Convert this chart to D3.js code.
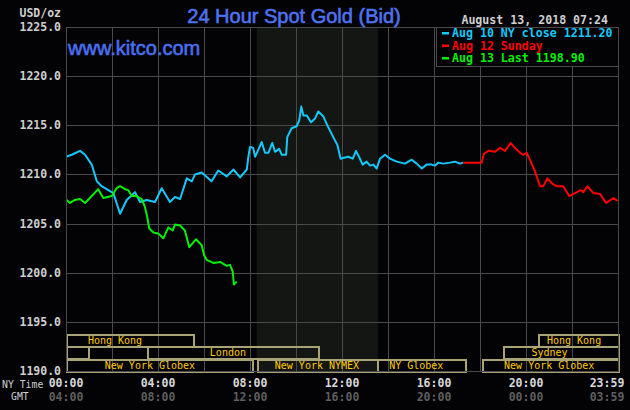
<!DOCTYPE html>
<html>
<head>
<meta charset="utf-8">
<script src="https://cdn.jsdelivr.net/npm/d3@7"></script>
<style>
  html, body { margin: 0; padding: 0; background: #000; }
  svg { display: block; }
</style>
</head>
<body>
<svg id="chart"></svg>
<script>
// Aug 10 NY close (hours since 00:00 NY time, price)
let closeHours = [0.0, 0.25, 0.61, 0.83, 1.12, 1.34, 1.55, 2.06, 2.35, 2.64, 3.0, 3.22, 3.51, 3.87, 4.16, 4.52, 4.74, 4.96,
  5.25, 5.47, 5.61, 5.9, 6.33, 6.62, 6.99, 7.28, 7.57, 7.86, 7.93, 8.0, 8.14, 8.22, 8.36, 8.51, 8.65, 8.8, 8.97, 9.09,
  9.27, 9.38, 9.57, 9.62, 9.81, 10.03, 10.14, 10.23, 10.32, 10.47, 10.65, 10.83, 10.97, 11.19, 11.36, 11.62, 11.8,
  11.94, 12.09, 12.27, 12.47, 12.61, 12.78, 12.9, 13.07, 13.22, 13.36, 13.51, 13.65, 13.87, 14.09, 14.38, 14.74,
  15.03, 15.25, 15.47, 15.68, 15.9, 16.04, 16.19, 16.4, 16.7, 16.91, 17.13, 17.27];
let closePrices = [1211.8, 1212.0, 1212.4, 1212.0, 1211.0, 1209.3, 1208.8, 1208.1, 1206.0, 1207.4, 1208.2, 1207.2, 1207.4,
  1207.2, 1208.6, 1207.2, 1207.7, 1207.5, 1209.6, 1209.3, 1210.0, 1210.2, 1209.3, 1210.4, 1209.8, 1210.5, 1209.7,
  1210.5, 1211.8, 1212.8, 1212.7, 1211.8, 1212.5, 1213.3, 1212.2, 1212.2, 1213.2, 1212.3, 1212.6, 1212.0, 1212.0,
  1213.8, 1214.7, 1214.9, 1215.5, 1216.9, 1216.0, 1216.0, 1215.3, 1215.7, 1216.4, 1215.9, 1215.0, 1213.8, 1213.0,
  1211.6, 1211.7, 1211.8, 1211.6, 1212.4, 1211.6, 1211.0, 1211.3, 1210.9, 1211.0, 1210.6, 1211.6, 1212.0, 1211.6,
  1211.3, 1211.1, 1211.5, 1211.1, 1210.6, 1211.0, 1211.0, 1210.9, 1211.2, 1211.1, 1211.2, 1211.3, 1211.1, 1211.2];

// Aug 12 Sunday
let sundayHours = [17.27, 18.07, 18.17, 18.36, 18.65, 18.87, 19.09, 19.33, 19.52, 19.74, 19.88, 20.03, 20.17, 20.39,
  20.61, 20.75, 20.93, 21.12, 21.33, 21.62, 21.88, 22.13, 22.38, 22.49, 22.67, 22.93, 23.22, 23.48, 23.62, 23.8, 23.98];
let sundayPrices = [1211.2, 1211.2, 1212.1, 1212.4, 1212.3, 1212.7, 1212.4, 1213.2, 1212.7, 1212.2, 1212.0, 1212.2,
  1211.5, 1210.3, 1208.8, 1208.8, 1209.6, 1209.1, 1208.8, 1208.8, 1207.8, 1208.1, 1208.4, 1208.2, 1208.8, 1208.1,
  1208.0, 1207.1, 1207.3, 1207.6, 1207.3];

// Aug 13 last
let lastHours = [0.03, 0.17, 0.39, 0.61, 0.83, 1.12, 1.4, 1.62, 1.99, 2.2, 2.35, 2.57, 2.71, 2.86, 3.07, 3.29, 3.43,
  3.53, 3.62, 3.8, 4.01, 4.23, 4.45, 4.64, 4.74, 4.96, 5.17, 5.36, 5.65, 5.9, 6.0, 6.12, 6.4, 6.7, 6.99, 7.13, 7.25,
  7.3, 7.42];
let lastPrices = [1207.4, 1207.1, 1207.4, 1207.5, 1207.1, 1207.8, 1208.5, 1207.6, 1207.8, 1208.6, 1208.8, 1208.5,
  1208.4, 1207.8, 1207.8, 1207.5, 1206.7, 1205.7, 1204.5, 1204.1, 1204.0, 1203.5, 1204.6, 1204.3, 1204.9, 1204.8,
  1204.3, 1202.6, 1203.4, 1202.8, 1201.8, 1201.3, 1201.0, 1201.1, 1200.7, 1200.8, 1200.1, 1198.8, 1199.1];

let priceTicks = [1190, 1195, 1200, 1205, 1210, 1215, 1220, 1225];
let nyTimeLabels = ["00:00", "04:00", "08:00", "12:00", "16:00", "20:00", "23:59"];
let gmtLabels = ["04:00", "08:00", "12:00", "16:00", "20:00", "00:00", "03:59"];
let labelHours = [0, 4, 8, 12, 16, 20, 24];

let legendLabels = ["Aug 10 NY close 1211.20", "Aug 12 Sunday", "Aug 13 Last 1198.90"];

// trading sessions: row 0 = top
let sessionNames = ["Hong Kong", "Hong Kong", "", "London", "Sydney", "New York Globex", "New York NYMEX", "NY Globex", "New York Globex"];
let sessionStart = [0, 20.53, 0, 3.5, 19.0, 0, 8.29, 13.5, 18.07];
let sessionEnd = [5.51, 24, 0.97, 10.97, 24, 8.07, 13.5, 17.36, 24];
let sessionRow = [0, 0, 1, 1, 1, 2, 2, 2, 2];
let sessionLabelAt = [2.13, 22.09, 0, 7.04, 21.02, 3.65, 10.91, 15.23, 21.01];

let nymexHours = [8.29, 13.56];

const W = 630, H = 410;
const plotLeft = 66, plotRight = 618, plotTop = 27, plotBottom = 371;
const mono = "'DejaVu Sans Mono', monospace";
const gridColor = "#4a4a4a";

let svg = d3.select("#chart").attr("width", W).attr("height", H);
svg.append("rect").attr("width", W).attr("height", H).attr("fill", "#030305");

let x = d3.scaleLinear().domain([0, 24]).range([plotLeft, plotRight]);
let y = d3.scaleLinear().domain([1190, 1225]).range([plotBottom, plotTop]);

// NYMEX shading
svg.append("rect")
    .attr("x", x(nymexHours[0])).attr("y", plotTop)
    .attr("width", x(nymexHours[1]) - x(nymexHours[0]))
    .attr("height", plotBottom - plotTop)
    .attr("fill", "#141613");

// grid
let grid = svg.append("g").attr("stroke", gridColor).attr("stroke-width", 1).attr("shape-rendering", "crispEdges");
grid.selectAll(".v").data(d3.range(0, 25, 2)).join("line")
    .attr("x1", d => Math.round(x(d)) + 0.5).attr("x2", d => Math.round(x(d)) + 0.5)
    .attr("y1", plotTop).attr("y2", plotBottom);
grid.selectAll(".h").data(priceTicks).join("line")
    .attr("x1", plotLeft).attr("x2", plotRight)
    .attr("y1", d => Math.round(y(d)) + 0.5).attr("y2", d => Math.round(y(d)) + 0.5);

// y tick labels
svg.append("g").selectAll("text").data(priceTicks).join("text")
    .attr("x", 61).attr("y", d => y(d) + 4)
    .attr("text-anchor", "end")
    .attr("font-family", mono).attr("font-size", 11.5).attr("font-weight", "bold")
    .attr("fill", "#cfcfcf")
    .text(d => d.toFixed(1));

svg.append("text").attr("x", 61).attr("y", 17).attr("text-anchor", "end")
    .attr("font-family", mono).attr("font-size", 11.5).attr("font-weight", "bold")
    .attr("fill", "#cfcfcf").text("USD/oz");

// sessions
let rowH = (y(1190) - y(1193.8)) / 3;
let rowTop = r => plotBottom - (3 - r) * rowH;
let sessions = d3.range(sessionNames.length).map(i => ({
  name: sessionNames[i], s: sessionStart[i], e: sessionEnd[i], row: sessionRow[i], at: sessionLabelAt[i]
}));
let sg = svg.append("g");
sg.selectAll("rect").data(sessions).join("rect")
    .attr("x", d => Math.round(x(d.s)) + 0.5)
    .attr("y", d => Math.round(rowTop(d.row)) + 0.5)
    .attr("width", d => Math.round(x(d.e)) - Math.round(x(d.s)))
    .attr("height", d => Math.round(rowH))
    .attr("fill", "none").attr("stroke", "#a8a476").attr("stroke-width", 2)
    .attr("shape-rendering", "crispEdges");
sg.selectAll("text").data(sessions.filter(d => d.name)).join("text")
    .attr("x", d => x(d.at)).attr("y", d => rowTop(d.row) + rowH - 2.5)
    .attr("text-anchor", "middle")
    .attr("font-family", mono).attr("font-size", 10)
    .attr("fill", "#ffcc00")
    .text(d => d.name);

// price lines
let line = d3.line().x(d => x(d[0])).y(d => y(d[1]));
let series = [
  { hours: closeHours, prices: closePrices, color: "#14c8fa" },
  { hours: sundayHours, prices: sundayPrices, color: "#ff0000" },
  { hours: lastHours, prices: lastPrices, color: "#00f000" }
];
svg.append("g").selectAll("path").data(series).join("path")
    .attr("d", d => line(d3.zip(d.hours, d.prices)))
    .attr("fill", "none").attr("stroke", d => d.color).attr("stroke-width", 2)
    .attr("stroke-linejoin", "round");

// plot border
svg.append("rect").attr("x", plotLeft + 0.5).attr("y", plotTop + 0.5)
    .attr("width", plotRight - plotLeft).attr("height", plotBottom - plotTop)
    .attr("fill", "none").attr("stroke", gridColor).attr("shape-rendering", "crispEdges");

// legend
svg.append("rect").attr("x", 436.5).attr("y", plotTop + 0.5).attr("width", plotRight - 436).attr("height", 39)
    .attr("fill", "#030305").attr("stroke", gridColor).attr("shape-rendering", "crispEdges");
let lg = svg.append("g").selectAll("g").data(legendLabels).join("g")
    .attr("transform", (d, i) => `translate(442, ${37 + i * 12.5})`);
lg.append("rect").attr("x", 0).attr("y", -5).attr("width", 7).attr("height", 2.5)
    .attr("fill", (d, i) => series[i].color);
lg.append("text").attr("x", 10)
    .attr("font-family", mono).attr("font-size", 11.6).attr("font-weight", "bold")
    .attr("fill", (d, i) => series[i].color)
    .text(d => d);

// titles
svg.append("text").attr("x", 294).attr("y", 22.5).attr("text-anchor", "middle")
    .attr("font-family", "'Liberation Sans', Arial, sans-serif").attr("font-size", 20)
    .attr("fill", "#4f72f0").attr("stroke", "#4f72f0").attr("stroke-width", 0.6)
    .text("24 Hour Spot Gold (Bid)");
svg.append("text").attr("x", 68).attr("y", 55)
    .attr("font-family", "'Liberation Sans', Arial, sans-serif").attr("font-size", 20)
    .attr("fill", "#4a6ff0").attr("stroke", "#4a6ff0").attr("stroke-width", 0.6)
    .text("www.kitco.com");
svg.append("text").attr("x", 608).attr("y", 24).attr("text-anchor", "end")
    .attr("font-family", mono).attr("font-size", 11.6).attr("font-weight", "bold")
    .attr("fill", "#d0d0d0").text("August 13, 2018 07:24");

// time axis
let tx = (h, i) => i === labelHours.length - 1 ? x(h) - 11 : x(h);
svg.append("g").selectAll("text").data(nyTimeLabels).join("text")
    .attr("x", (d, i) => tx(labelHours[i], i)).attr("y", 387)
    .attr("text-anchor", "middle")
    .attr("font-family", mono).attr("font-size", 11.5).attr("font-weight", "bold")
    .attr("fill", "#d8d8d8").text(d => d);
svg.append("g").selectAll("text").data(gmtLabels).join("text")
    .attr("x", (d, i) => tx(labelHours[i], i)).attr("y", 400.5)
    .attr("text-anchor", "middle")
    .attr("font-family", mono).attr("font-size", 11.5).attr("font-weight", "bold")
    .attr("fill", "#5e5e5e").text(d => d);
svg.append("text").attr("x", 2).attr("y", 387.5)
    .attr("font-family", mono).attr("font-size", 9.8)
    .attr("fill", "#cfcfcf").text("NY Time");
svg.append("text").attr("x", 11).attr("y", 400)
    .attr("font-family", mono).attr("font-size", 9.8)
    .attr("fill", "#cfcfcf").text("GMT");
</script>
</body>
</html>
